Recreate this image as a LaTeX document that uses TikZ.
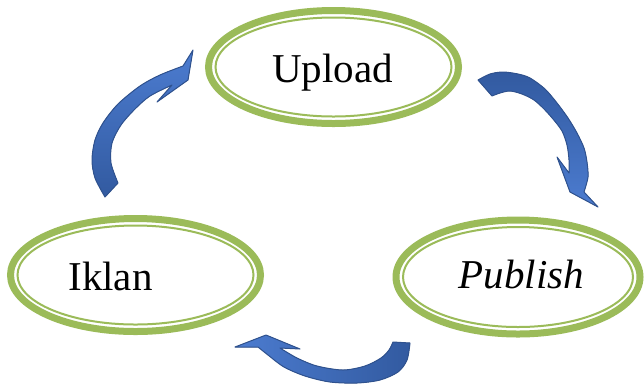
\documentclass[tikz,border=0pt]{standalone}
\usepackage{fontspec}
\setmainfont{Liberation Serif}
\usetikzlibrary{shapes.geometric}
\definecolor{ringgreen}{RGB}{155,187,89}
\definecolor{arrowfill}{RGB}{72,118,200}
\definecolor{arrowlight}{RGB}{76,124,208}
\definecolor{arrowdark}{RGB}{50,90,160}
\definecolor{arrowedge}{RGB}{47,82,143}
\tikzset{
  ringnode/.style={ellipse, draw=ringgreen, line width=7pt, fill=white, inner sep=0pt},
  ringinner/.style={draw=ringgreen, line width=2pt},
  lbl/.style={anchor=base, font=\fontsize{41}{41}\selectfont, inner sep=0pt},
  blockarrow/.style={draw=arrowedge, line width=1pt, line join=round}
}
\begin{document}
\begin{tikzpicture}[x=1pt,y=-1pt]
\useasboundingbox (0,0) rectangle (644,384);
% ellipses
\node[ringnode, minimum width=250pt, minimum height=113pt] (upload) at (333.5,67) {};
\draw[ringinner] (upload.center) ellipse [x radius=118pt, y radius=49.5pt];
\node[ringnode, minimum width=250pt, minimum height=113pt] (iklan) at (135.5,275) {};
\draw[ringinner] (iklan.center) ellipse [x radius=118pt, y radius=49.5pt];
\node[ringnode, minimum width=244pt, minimum height=114pt] (publish) at (518,277) {};
\draw[ringinner] (publish.center) ellipse [x radius=115pt, y radius=50pt];
% labels
\node[lbl] (tup) at (332.5,82) {Upload};
\node[lbl] (tik) at (110.5,290) {Iklan};
\node[lbl] (tpb) at (521.5,288) {\itshape Publish};
% arrow Iklan -> Upload
\filldraw[blockarrow, bottom color=arrowdark, top color=arrowlight]
  (105,197) -- plot[smooth] coordinates {(105,197) (95,178) (92,160) (95,140) (103,123) (118,104) (140,86) (160,75) (183,66)}
  -- (193,50) -- (188,80) -- (157,102) -- (172,85)
  -- plot[smooth] coordinates {(172,85) (150,96) (135,109) (121,125) (112,143) (111,163) (118,183)} -- cycle;
% arrow Upload -> Publish
\filldraw[blockarrow, top color=arrowdark, bottom color=arrowlight]
  (478,80) -- plot[smooth] coordinates {(478,80) (490,74) (503,72) (518,74) (530,78) (545,89) (557,103) (568,118) (577,133) (584,148) (587,162) (588,177) (584,192)}
  -- (598,207) -- (570,192) -- (557,157) -- (569,173)
  -- plot[smooth] coordinates {(569,173) (569,160) (567,145) (562,131) (553,119) (544,109) (534,100) (522,94) (510,91) (500,93) (492,96)} -- cycle;
% arrow Publish -> Iklan
\filldraw[blockarrow, left color=arrowlight, right color=arrowdark]
  (393,342) -- (410,343) -- plot[smooth] coordinates {(410,343) (407,360) (398,372) (380,380) (357,383) (330,382) (305,376) (284,367) (268,355) (258,347)}
  -- (235,347) -- (266,335) -- (300,349) -- (280,348)
  -- plot[smooth] coordinates {(280,348) (297,358) (317,366) (343,370) (365,366) (381,358) (389,350) (393,342)} -- cycle;
\end{tikzpicture}
\end{document}
